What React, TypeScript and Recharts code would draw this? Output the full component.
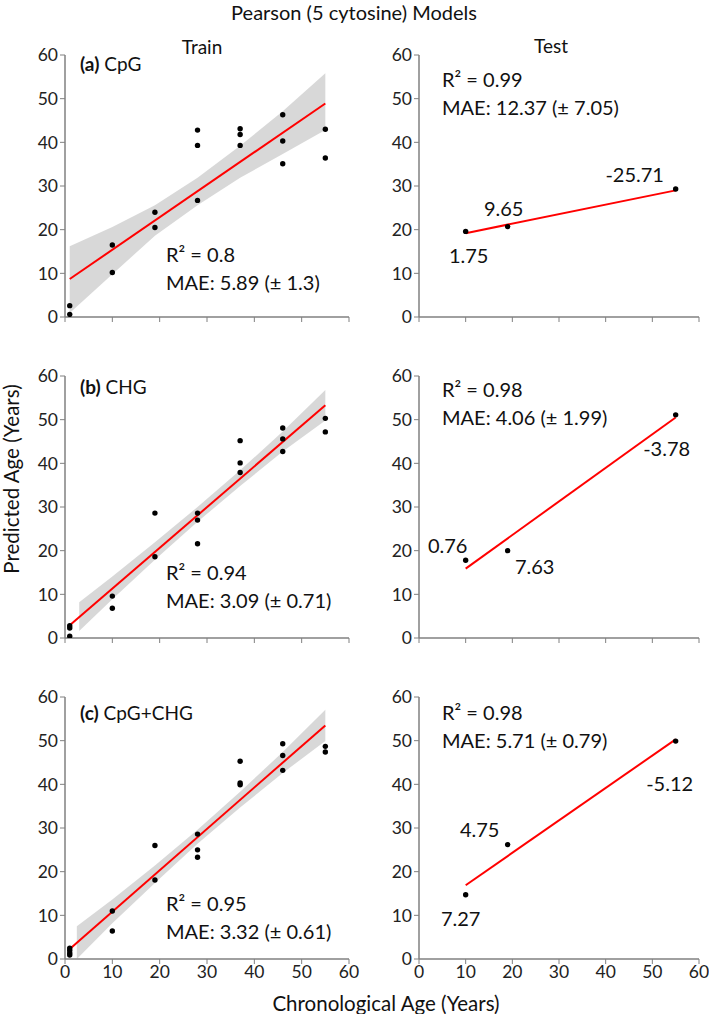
import { ComposedChart, Scatter, Line, Area, XAxis, YAxis } from "recharts";

const FONT = "Lato, 'Open Sans', sans-serif";

const AXIS_TICKS = [0, 10, 20, 30, 40, 50, 60];
const PANEL_TAGS = ["(a)", "(b)", "(c)"];
const PANEL_NAMES = ["CpG", "CHG", "CpG+CHG"];

// train sets: [chronological age, predicted age]
const cpgTrain = [
  [1, 2.6], [1, 0.6], [10, 16.5], [10, 10.2], [19, 24.0], [19, 20.5],
  [28, 42.8], [28, 39.3], [28, 26.7], [37, 43.1], [37, 41.8], [37, 39.3],
  [46, 46.3], [46, 40.3], [46, 35.1], [55, 43.0], [55, 36.4],
];
const chgTrain = [
  [1, 2.8], [1, 2.3], [1, 0.4], [10, 9.6], [10, 6.8], [19, 28.6], [19, 18.6],
  [28, 28.6], [28, 27.0], [28, 21.6], [37, 45.2], [37, 40.1], [37, 37.9],
  [46, 48.1], [46, 45.6], [46, 42.7], [55, 50.3], [55, 47.2],
];
const bothTrain = [
  [1, 2.5], [1, 2.0], [1, 1.4], [1, 0.9], [10, 11.0], [10, 6.4], [19, 26.0], [19, 18.1],
  [28, 28.6], [28, 25.0], [28, 23.3], [37, 45.3], [37, 40.3], [37, 39.9],
  [46, 49.3], [46, 46.6], [46, 43.2], [55, 48.7], [55, 47.4],
];

// regression lines: [age, predicted]
const cpgTrainFit = [[1, 8.7], [55, 48.9]];
const chgTrainFit = [[1, 2.9], [55, 53.3]];
const bothTrainFit = [[1, 2.3], [55, 53.5]];

// confidence bands: [age, lower, upper]
const cpgTrainBand = [
  [1, 0.9, 16.2], [10, 9.8, 20.6], [19, 18.6, 25.6], [28, 25.6, 31.9],
  [37, 31.9, 39.2], [46, 37.3, 47.1], [55, 42.8, 55.8],
];
const chgTrainBand = [
  [3, 1.6, 8.2], [10, 8.9, 14.1], [19, 17.9, 21.9], [28, 26.6, 30.0],
  [37, 34.8, 38.4], [46, 42.7, 47.3], [55, 49.8, 56.8],
];
const bothTrainBand = [
  [2.5, 0, 7.5], [10, 8.2, 13.6], [19, 17.4, 21.4], [28, 26.4, 29.6],
  [37, 34.7, 38.3], [46, 42.6, 47.4], [55, 49.9, 57.1],
];

const trainR2 = ["0.8", "0.94", "0.95"];
const trainMae = ["5.89 (± 1.3)", "3.09 (± 0.71)", "3.32 (± 0.61)"];

// test sets
const cpgTest = [[10, 19.6], [19, 20.7], [55, 29.3]];
const chgTest = [[10, 17.8], [19, 20.0], [55, 51.1]];
const bothTest = [[10, 14.7], [19, 26.2], [55, 49.9]];
const cpgTestErr = ["1.75", "9.65", "-25.71"];
const chgTestErr = ["0.76", "7.63", "-3.78"];
const bothTestErr = ["7.27", "4.75", "-5.12"];
const cpgTestFit = [[10, 19.2], [55, 29.0]];
const chgTestFit = [[10, 15.9], [55, 50.5]];
const bothTestFit = [[10, 16.9], [55, 50.3]];
const testR2 = ["0.99", "0.98", "0.98"];
const testMae = ["12.37 (± 7.05)", "4.06 (± 1.99)", "5.71 (± 0.79)"];

// where the error labels sit relative to their dot (px)
const ERR_OFFSETS = [
  [[3, 24], [-4, -19], [-41, -15]],
  [[-18, -15], [27, 15], [-9, 33]],
  [[-5, 23], [-28, -16], [-6, 42]],
];

const PLOT_TOPS = [55, 376, 697];
const PLOT_H = 262;

const toPts = (arr: number[][], labels?: string[], offs?: number[][]) =>
  arr.map(([x, y], i) => ({
    x,
    y,
    label: labels ? labels[i] : undefined,
    dx: offs ? offs[i][0] : 0,
    dy: offs ? offs[i][1] : 0,
  }));
const toLine = (arr: number[][]) => arr.map(([x, y]) => ({ x, y }));
const toBand = (arr: number[][]) => arr.map(([x, lo, hi]) => ({ x, range: [lo, hi] }));

const Dot = (props: any) => {
  const { cx, cy, payload } = props;
  return (
    <g>
      <circle cx={cx} cy={cy} r={2.7} fill="#000" />
      {payload.label && (
        <text
          x={cx + payload.dx}
          y={cy + payload.dy}
          textAnchor="middle"
          dominantBaseline="central"
          fontSize={20}
          fill="#111"
          fontFamily={FONT}
        >
          {payload.label}
        </text>
      )}
    </g>
  );
};

const tickStyle = { fontSize: 17.5, fill: "#222", fontFamily: FONT };

function Panel({ left, top, plotW, points, fit, band, showX }: any) {
  const yW = 50;
  return (
    <div style={{ position: "absolute", left: left - yW, top: top - 12 }}>
      <ComposedChart
        width={yW + plotW + 20}
        height={12 + PLOT_H + 30 + 2}
        margin={{ top: 12, right: 20, bottom: 2, left: 0 }}
      >
        <XAxis
          type="number"
          dataKey="x"
          domain={[0, 60]}
          ticks={AXIS_TICKS}
          allowDataOverflow
          height={30}
          axisLine={{ stroke: "#808080", strokeWidth: 1.5 }}
          tickLine={{ stroke: "#808080" }}
          tickSize={5}
          tick={tickStyle}
          tickFormatter={showX ? undefined : () => ""}
        />
        <YAxis
          type="number"
          domain={[0, 60]}
          ticks={AXIS_TICKS}
          allowDataOverflow
          width={yW}
          axisLine={{ stroke: "#808080", strokeWidth: 1.5 }}
          tickLine={{ stroke: "#808080" }}
          tickSize={5}
          tick={tickStyle}
        />
        <Scatter data={points} dataKey="y" shape={Dot} isAnimationActive={false} />
        {band && (
          <Area
            data={band}
            dataKey="range"
            type="linear"
            stroke="none"
            fill="#8f8f8f"
            fillOpacity={0.35}
            isAnimationActive={false}
          />
        )}
        <Line
          data={fit}
          dataKey="y"
          type="linear"
          stroke="#ff0000"
          strokeWidth={2}
          dot={false}
          isAnimationActive={false}
        />
      </ComposedChart>
    </div>
  );
}

export default function App() {
  const train = [
    { pts: cpgTrain, fit: cpgTrainFit, band: cpgTrainBand },
    { pts: chgTrain, fit: chgTrainFit, band: chgTrainBand },
    { pts: bothTrain, fit: bothTrainFit, band: bothTrainBand },
  ];
  const test = [
    { pts: cpgTest, err: cpgTestErr, fit: cpgTestFit },
    { pts: chgTest, err: chgTestErr, fit: chgTestFit },
    { pts: bothTest, err: bothTestErr, fit: bothTestFit },
  ];
  const trainStatY = [254, 572, 903];
  const testStatY = [79, 389, 712];
  const tagY = [63, 386, 712];

  return (
    <div
      style={{
        position: "absolute",
        left: 0,
        top: 0,
        width: 709,
        height: 1014,
        background: "#fff",
        fontFamily: FONT,
      }}
    >
      {train.map((p, i) => (
        <Panel
          key={"tr" + i}
          left={65}
          top={PLOT_TOPS[i]}
          plotW={284}
          points={toPts(p.pts)}
          fit={toLine(p.fit)}
          band={toBand(p.band)}
          showX={i === 2}
        />
      ))}
      {test.map((p, i) => (
        <Panel
          key={"te" + i}
          left={419}
          top={PLOT_TOPS[i]}
          plotW={280}
          points={toPts(p.pts, p.err, ERR_OFFSETS[i])}
          fit={toLine(p.fit)}
          showX={i === 2}
        />
      ))}
      <svg
        width={709}
        height={1014}
        style={{ position: "absolute", left: 0, top: 0, pointerEvents: "none" }}
        fontFamily={FONT}
      >
        <text x={354} y={12} textAnchor="middle" dominantBaseline="central" fontSize={20} fill="#111">
          Pearson (5 cytosine) Models
        </text>
        <text x={202} y={46} textAnchor="middle" dominantBaseline="central" fontSize={19} fill="#111">
          Train
        </text>
        <text x={551} y={45} textAnchor="middle" dominantBaseline="central" fontSize={19} fill="#111">
          Test
        </text>
        {PANEL_NAMES.map((n, i) => (
          <text key={n} x={80} y={tagY[i]} dominantBaseline="central" fontSize={19} fill="#111">
            <tspan fontWeight="bold">{PANEL_TAGS[i]}</tspan> {n}
          </text>
        ))}
        {trainR2.map((r, i) => (
          <g key={"trs" + i}>
            <text x={166} y={trainStatY[i]} dominantBaseline="central" fontSize={20} fill="#111">
              R² = {r}
            </text>
            <text x={166} y={trainStatY[i] + 28} dominantBaseline="central" fontSize={20} fill="#111">
              MAE: {trainMae[i]}
            </text>
          </g>
        ))}
        {testR2.map((r, i) => (
          <g key={"tes" + i}>
            <text x={442} y={testStatY[i]} dominantBaseline="central" fontSize={20} fill="#111">
              R² = {r}
            </text>
            <text x={442} y={testStatY[i] + 28} dominantBaseline="central" fontSize={20} fill="#111">
              MAE: {testMae[i]}
            </text>
          </g>
        ))}
        <text
          x={11}
          y={479}
          textAnchor="middle"
          dominantBaseline="central"
          fontSize={20.5}
          fill="#111"
          transform="rotate(-90 11 479)"
        >
          Predicted Age (Years)
        </text>
        <text x={386} y={1003} textAnchor="middle" dominantBaseline="central" fontSize={20.5} fill="#111">
          Chronological Age (Years)
        </text>
      </svg>
    </div>
  );
}
